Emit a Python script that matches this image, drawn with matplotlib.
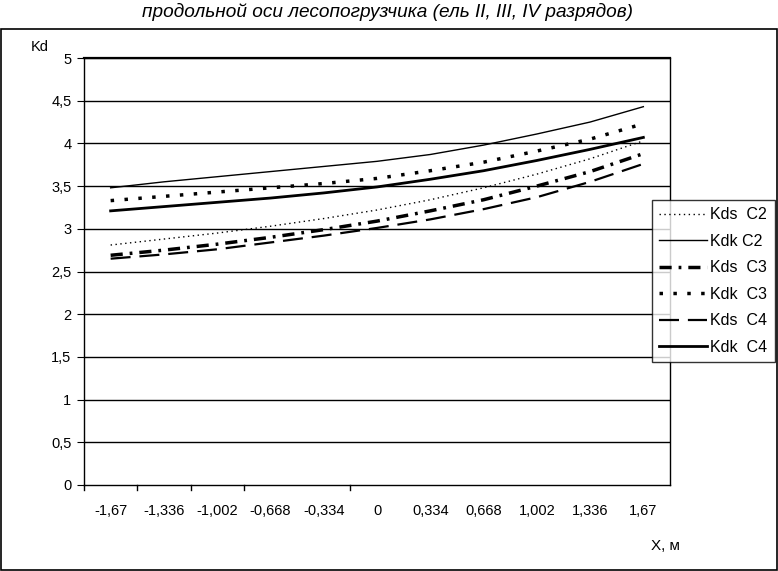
import numpy as np
import matplotlib.pyplot as plt
from matplotlib.patches import Rectangle

plt.rcParams['font.family'] = ['Liberation Sans', 'DejaVu Sans']

# Categories (X, m)
x_labels = ['-1,67', '-1,336', '-1,002', '-0,668', '-0,334', '0',
            '0,334', '0,668', '1,002', '1,336', '1,67']

# Series values
kds_c2 = [2.81, 2.88, 2.95, 3.03, 3.12, 3.22, 3.34, 3.48, 3.64, 3.82, 4.03]
kdk_c2 = [3.48, 3.55, 3.61, 3.67, 3.73, 3.79, 3.87, 3.98, 4.11, 4.25, 4.43]
kds_c3 = [2.69, 2.75, 2.82, 2.90, 2.99, 3.09, 3.21, 3.34, 3.50, 3.67, 3.88]
kdk_c3 = [3.33, 3.38, 3.43, 3.48, 3.53, 3.59, 3.68, 3.78, 3.91, 4.05, 4.23]
kds_c4 = [2.65, 2.70, 2.76, 2.84, 2.92, 3.01, 3.11, 3.23, 3.37, 3.55, 3.76]
kdk_c4 = [3.21, 3.26, 3.31, 3.36, 3.42, 3.49, 3.58, 3.68, 3.80, 3.93, 4.07]

y_ticks = np.arange(0, 5.01, 0.5)

fig = plt.figure(figsize=(7.78, 5.71), dpi=100)
W, H = 778, 571
ax = fig.add_axes([84 / W, 1 - 485 / H, (670 - 84) / W, (485 - 58) / H])

x = np.arange(len(x_labels))

ax.plot(x, kds_c2, color='black', lw=1.0, ls=(0, (1, 2.5)), label='Kds  C2')
ax.plot(x, kdk_c2, color='black', lw=1.0, ls='-', label='Kdk C2')
ax.plot(x, kds_c3, color='black', lw=2.5, ls=(0, (3.5, 2, 0.8, 2)), label='Kds  C3')
ax.plot(x, kdk_c3, color='black', lw=2.5, ls=(0, (1, 3)), label='Kdk  C3')
ax.plot(x, kds_c4, color='black', lw=1.6, ls=(0, (9, 4)), label='Kds  C4')
ax.plot(x, kdk_c4, color='black', lw=2.0, ls='-', label='Kdk  C4')

ax.set_xlim(-0.5, len(x_labels) - 0.5)
ax.set_ylim(0, 5)
ax.set_yticks(y_ticks)
ax.set_yticklabels([f'{v:g}'.replace('.', ',') for v in y_ticks], fontsize=10.5)
for v in y_ticks[1:]:
    ax.axhline(v, color='black', lw=1.0, zorder=0)

# category labels without tick marks, boundary ticks drawn separately
ax.set_xticks(x)
ax.set_xticklabels(x_labels, fontsize=10.5)
ax.tick_params(axis='x', length=0, pad=14)
ax.tick_params(axis='y', length=5, direction='out', pad=4)
for b in [-0.5, 0.5, 1.5, 2.5, 4.5]:
    ax.plot([b, b], [0, -0.06], color='black', lw=1, clip_on=False)

for s in ax.spines.values():
    s.set_color('black')
    s.set_linewidth(1.0)
ax.spines['top'].set_linewidth(1.6)

fig.text(31 / W, 1 - 47 / H, 'Kd', fontsize=10.5, va='center')
fig.text(651 / W, 1 - 546 / H, 'X, м', fontsize=11, va='center')

leg = fig.legend(loc='upper left', bbox_to_anchor=(652 / W, 1 - 200 / H),
                 frameon=True, fancybox=False, edgecolor='black',
                 fontsize=11.5, handlelength=3.0, handletextpad=0.2,
                 labelspacing=0.72, borderpad=0.45, borderaxespad=0)
leg.get_frame().set_linewidth(1.0)

fig.text(388 / W, 1 - 12 / H, 'продольной оси лесопогрузчика (ель II, III, IV разрядов)',
         ha='center', va='center', fontsize=13.7, style='italic')

fig.patches.append(Rectangle((0.5 / W, 1.5 / H), 776 / W, 1 - 30 / H,
                             transform=fig.transFigure, fill=False,
                             edgecolor='black', lw=1.2))

fig.savefig('out.png', dpi=100)
